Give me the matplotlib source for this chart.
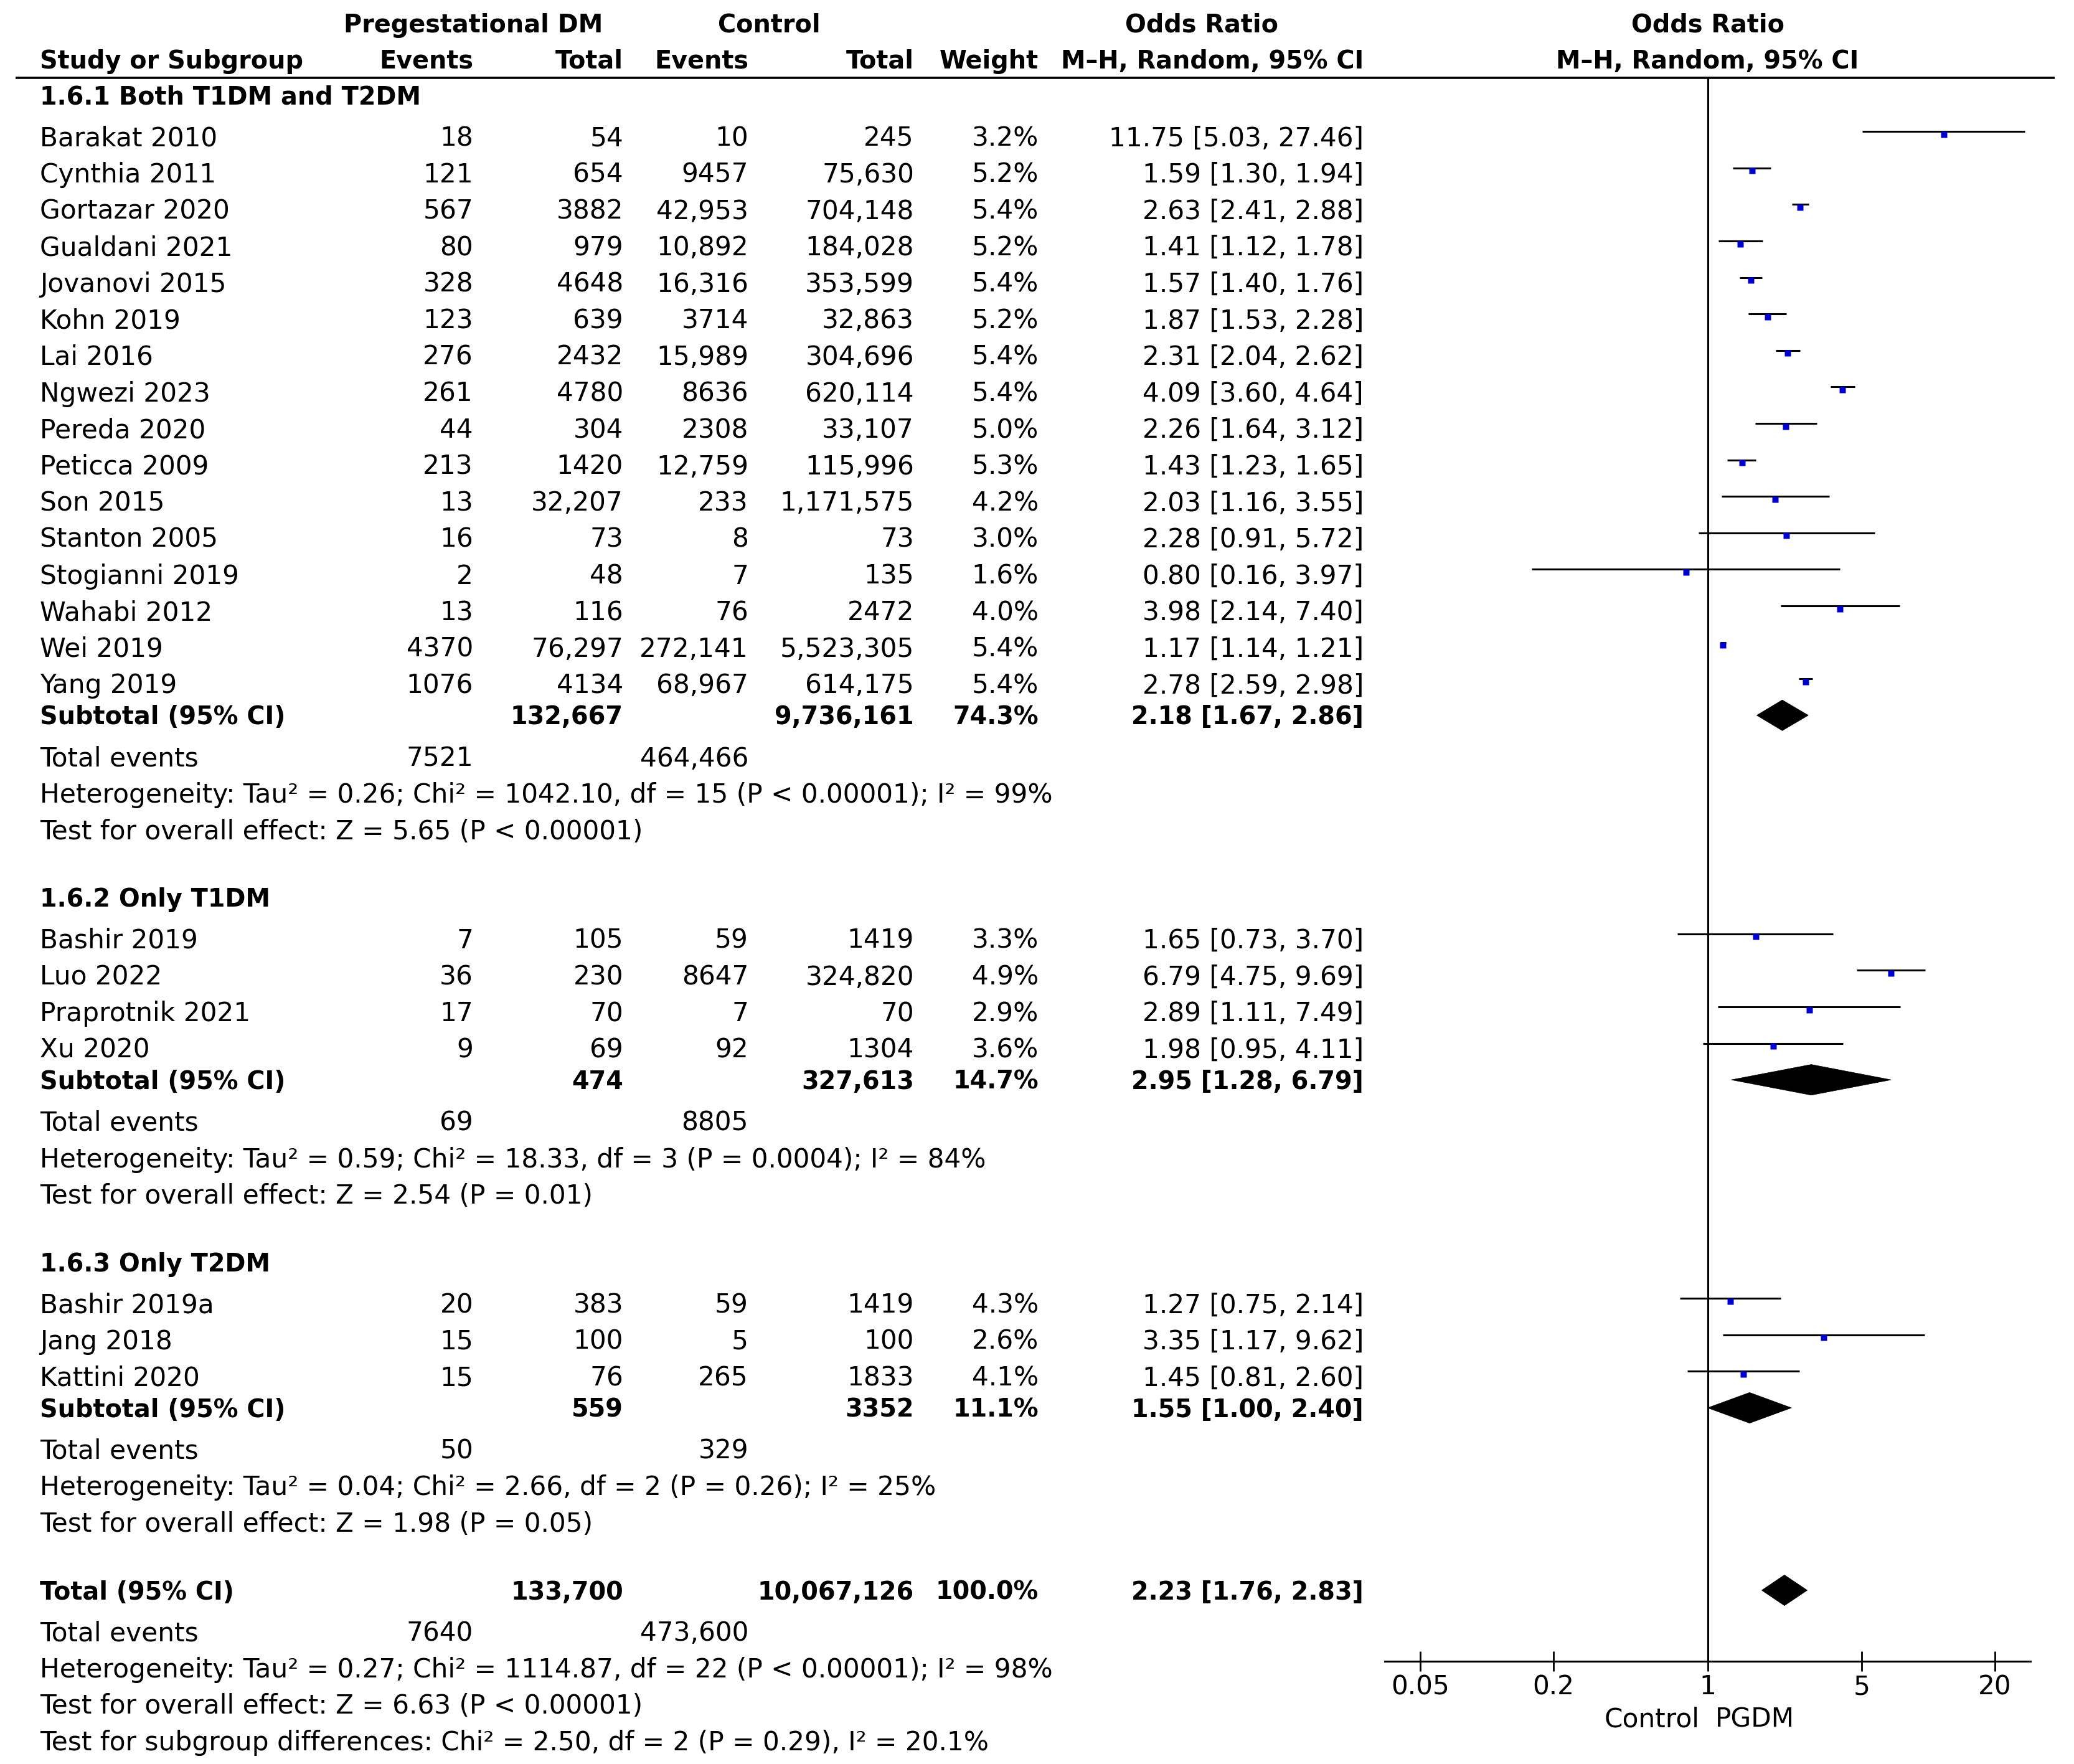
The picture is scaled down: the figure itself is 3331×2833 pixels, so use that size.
import numpy as np
import matplotlib.pyplot as plt
from matplotlib.patches import Polygon
from matplotlib.ticker import NullLocator

plt.rcParams['font.family'] = ['DejaVu Sans']
FS = 30.4      # regular text
FSB = 28.6     # bold text

# ---- data ----
# group 1.6.1 Both T1DM and T2DM
studies1 = ["Barakat 2010", "Cynthia 2011", "Gortazar 2020", "Gualdani 2021", "Jovanovi 2015",
            "Kohn 2019", "Lai 2016", "Ngwezi 2023", "Pereda 2020", "Peticca 2009", "Son 2015",
            "Stanton 2005", "Stogianni 2019", "Wahabi 2012", "Wei 2019", "Yang 2019"]
pg_events1 = [18, 121, 567, 80, 328, 123, 276, 261, 44, 213, 13, 16, 2, 13, 4370, 1076]
pg_total1 = [54, 654, 3882, 979, 4648, 639, 2432, 4780, 304, 1420, 32207, 73, 48, 116, 76297, 4134]
ctrl_events1 = [10, 9457, 42953, 10892, 16316, 3714, 15989, 8636, 2308, 12759, 233, 8, 7, 76, 272141, 68967]
ctrl_total1 = [245, 75630, 704148, 184028, 353599, 32863, 304696, 620114, 33107, 115996, 1171575,
               73, 135, 2472, 5523305, 614175]
weight1 = [3.2, 5.2, 5.4, 5.2, 5.4, 5.2, 5.4, 5.4, 5.0, 5.3, 4.2, 3.0, 1.6, 4.0, 5.4, 5.4]
or1 = [11.75, 1.59, 2.63, 1.41, 1.57, 1.87, 2.31, 4.09, 2.26, 1.43, 2.03, 2.28, 0.80, 3.98, 1.17, 2.78]
lo1 = [5.03, 1.30, 2.41, 1.12, 1.40, 1.53, 2.04, 3.60, 1.64, 1.23, 1.16, 0.91, 0.16, 2.14, 1.14, 2.59]
hi1 = [27.46, 1.94, 2.88, 1.78, 1.76, 2.28, 2.62, 4.64, 3.12, 1.65, 3.55, 5.72, 3.97, 7.40, 1.21, 2.98]

# group 1.6.2 Only T1DM
studies2 = ["Bashir 2019", "Luo 2022", "Praprotnik 2021", "Xu 2020"]
pg_events2 = [7, 36, 17, 9]
pg_total2 = [105, 230, 70, 69]
ctrl_events2 = [59, 8647, 7, 92]
ctrl_total2 = [1419, 324820, 70, 1304]
weight2 = [3.3, 4.9, 2.9, 3.6]
or2 = [1.65, 6.79, 2.89, 1.98]
lo2 = [0.73, 4.75, 1.11, 0.95]
hi2 = [3.70, 9.69, 7.49, 4.11]

# group 1.6.3 Only T2DM
studies3 = ["Bashir 2019a", "Jang 2018", "Kattini 2020"]
pg_events3 = [20, 15, 15]
pg_total3 = [383, 100, 76]
ctrl_events3 = [59, 5, 265]
ctrl_total3 = [1419, 100, 1833]
weight3 = [4.3, 2.6, 4.1]
or3 = [1.27, 3.35, 1.45]
lo3 = [0.75, 1.17, 0.81]
hi3 = [2.14, 9.62, 2.60]

group_titles = ["1.6.1 Both T1DM and T2DM", "1.6.2 Only T1DM", "1.6.3 Only T2DM"]
sub_pg_total = [132667, 474, 559]
sub_ctrl_total = [9736161, 327613, 3352]
sub_weight = [74.3, 14.7, 11.1]
sub_or = [2.18, 2.95, 1.55]
sub_lo = [1.67, 1.28, 1.00]
sub_hi = [2.86, 6.79, 2.40]
sub_pg_events = [7521, 69, 50]
sub_ctrl_events = [464466, 8805, 329]
sub_het = ["Heterogeneity: Tau² = 0.26; Chi² = 1042.10, df = 15 (P < 0.00001); I² = 99%",
           "Heterogeneity: Tau² = 0.59; Chi² = 18.33, df = 3 (P = 0.0004); I² = 84%",
           "Heterogeneity: Tau² = 0.04; Chi² = 2.66, df = 2 (P = 0.26); I² = 25%"]
sub_test = ["Test for overall effect: Z = 5.65 (P < 0.00001)",
            "Test for overall effect: Z = 2.54 (P = 0.01)",
            "Test for overall effect: Z = 1.98 (P = 0.05)"]

tot_pg_total, tot_ctrl_total, tot_weight = 133700, 10067126, 100.0
tot_or, tot_lo, tot_hi = 2.23, 1.76, 2.83
tot_pg_events, tot_ctrl_events = 7640, 473600
tot_lines = ["Heterogeneity: Tau² = 0.27; Chi² = 1114.87, df = 22 (P < 0.00001); I² = 98%",
             "Test for overall effect: Z = 6.63 (P < 0.00001)",
             "Test for subgroup differences: Chi² = 2.50, df = 2 (P = 0.29), I² = 20.1%"]

ticks = [0.05, 0.2, 1, 5, 20]
tick_labels = ["0.05", "0.2", "1", "5", "20"]

groups = [
    (studies1, pg_events1, pg_total1, ctrl_events1, ctrl_total1, weight1, or1, lo1, hi1),
    (studies2, pg_events2, pg_total2, ctrl_events2, ctrl_total2, weight2, or2, lo2, hi2),
    (studies3, pg_events3, pg_total3, ctrl_events3, ctrl_total3, weight3, or3, lo3, hi3),
]


def fmt(n):
    return f"{n:,}" if n >= 10000 else str(n)


def ci_text(o, l, h):
    return f"{o:.2f} [{l:.2f}, {h:.2f}]"


# ---- layout ----
W, H = 3331, 2833
ROW_PX = 58.6
FIRST_PX = 218.8
u_top = -FIRST_PX / ROW_PX
u_bot = (H - FIRST_PX) / ROW_PX
DY = 0.06   # small downward nudge for text

fig = plt.figure(figsize=(W / 100, H / 100), dpi=100)
tx = fig.add_axes([0, 0, 1, 1])
tx.set_xlim(0, W)
tx.set_ylim(u_bot, u_top)
tx.axis('off')

fx = fig.add_axes([2224 / W, 0, (3261 - 2224) / W, 1])
fx.patch.set_visible(False)
fx.set_xscale('log')
fx.set_xlim(10 ** -1.463, 10 ** 1.463)
fx.set_ylim(u_bot, u_top)

# column anchors (px)
X_NAME, X_PE, X_PT, X_CE, X_CT, X_W, X_OR = 64, 760, 1001, 1202, 1468, 1668, 2190


def put(ax, x, y, s, bold=False, ha='left'):
    ax.text(x, y + DY, s, ha=ha, va='center', fontsize=FSB if bold else FS,
            fontweight='bold' if bold else 'normal')


def row_text(y, cells, bold=False):
    xs = [X_NAME, X_PE, X_PT, X_CE, X_CT, X_W, X_OR]
    for x, s in zip(xs, cells):
        if s is None:
            continue
        put(tx, x, y, s, bold, 'left' if x == X_NAME else 'right')


# headers
Y_H1, Y_H2, Y_LINE = -3.10, -2.11, -1.60
for x, s in [(760, "Pregestational DM"), (1235, "Control"), (1930, "Odds Ratio")]:
    put(tx, x, Y_H1, s, True, 'center')
row_text(Y_H2, ["Study or Subgroup", "Events", "Total", "Events", "Total", "Weight",
                "M–H, Random, 95% CI"], bold=True)
put(fx, 1, Y_H1, "Odds Ratio", True, 'center')
put(fx, 1, Y_H2, "M–H, Random, 95% CI", True, 'center')
tx.hlines(Y_LINE, 25, 3300, color='black', lw=2.6)


def diamond(y, o, l, h):
    fx.add_patch(Polygon([(l, y), (o, y - 0.42), (h, y), (o, y + 0.42)], closed=True,
                         facecolor='black', edgecolor='black', lw=0.5))


y = -1.12
for gi, g in enumerate(groups):
    names, pe, pt, ce, ct, w, o, l, h = g
    put(tx, X_NAME, y, group_titles[gi], True)
    y += 1.12
    for i in range(len(names)):
        row_text(y, [names[i], fmt(pe[i]), fmt(pt[i]), fmt(ce[i]), fmt(ct[i]),
                     f"{w[i]:.1f}%", ci_text(o[i], l[i], h[i])])
        fx.hlines(y - 0.13, l[i], h[i], color='black', lw=2.2)
        fx.plot(o[i], y - 0.05, 's', color='#0000cc', ms=7.5, mec='none')
        y += 1
    y -= 1
    ys = y + 0.87
    row_text(ys, ["Subtotal (95% CI)", None, fmt(sub_pg_total[gi]), None, fmt(sub_ctrl_total[gi]),
                  f"{sub_weight[gi]:.1f}%", ci_text(sub_or[gi], sub_lo[gi], sub_hi[gi])], bold=True)
    diamond(ys, sub_or[gi], sub_lo[gi], sub_hi[gi])
    row_text(y + 2, ["Total events", fmt(sub_pg_events[gi]), None, fmt(sub_ctrl_events[gi]),
                     None, None, None])
    put(tx, X_NAME, y + 3, sub_het[gi])
    put(tx, X_NAME, y + 4, sub_test[gi])
    y = y + 4 + 1.87

# overall
row_text(y, ["Total (95% CI)", None, fmt(tot_pg_total), None, fmt(tot_ctrl_total),
             f"{tot_weight:.1f}%", ci_text(tot_or, tot_lo, tot_hi)], bold=True)
diamond(y, tot_or, tot_lo, tot_hi)
row_text(y + 1.12, ["Total events", fmt(tot_pg_events), None, fmt(tot_ctrl_events), None, None, None])
for k, s in enumerate(tot_lines):
    put(tx, X_NAME, y + 2.12 + k, s)

# forest axis
Y_AXIS = y + 1.95
fx.vlines(1, Y_LINE, Y_AXIS, color='black', lw=2.2)
for side in ['left', 'right', 'top']:
    fx.spines[side].set_visible(False)
fx.spines['bottom'].set_position(('data', Y_AXIS))
fx.spines['bottom'].set_linewidth(2.2)
fx.set_yticks([])
fx.set_xticks(ticks)
fx.set_xticklabels(tick_labels)
fx.xaxis.set_minor_locator(NullLocator())
fx.tick_params(axis='x', direction='inout', length=23, width=2, labelsize=FS, pad=3)
fx.annotate("Control", xy=(1, Y_AXIS), xytext=(-9, -67), textcoords='offset points',
            ha='right', va='center', fontsize=FS)
fx.annotate("PGDM", xy=(1, Y_AXIS), xytext=(9, -67), textcoords='offset points',
            ha='left', va='center', fontsize=FS)

fig.savefig('out.png', dpi=100)
